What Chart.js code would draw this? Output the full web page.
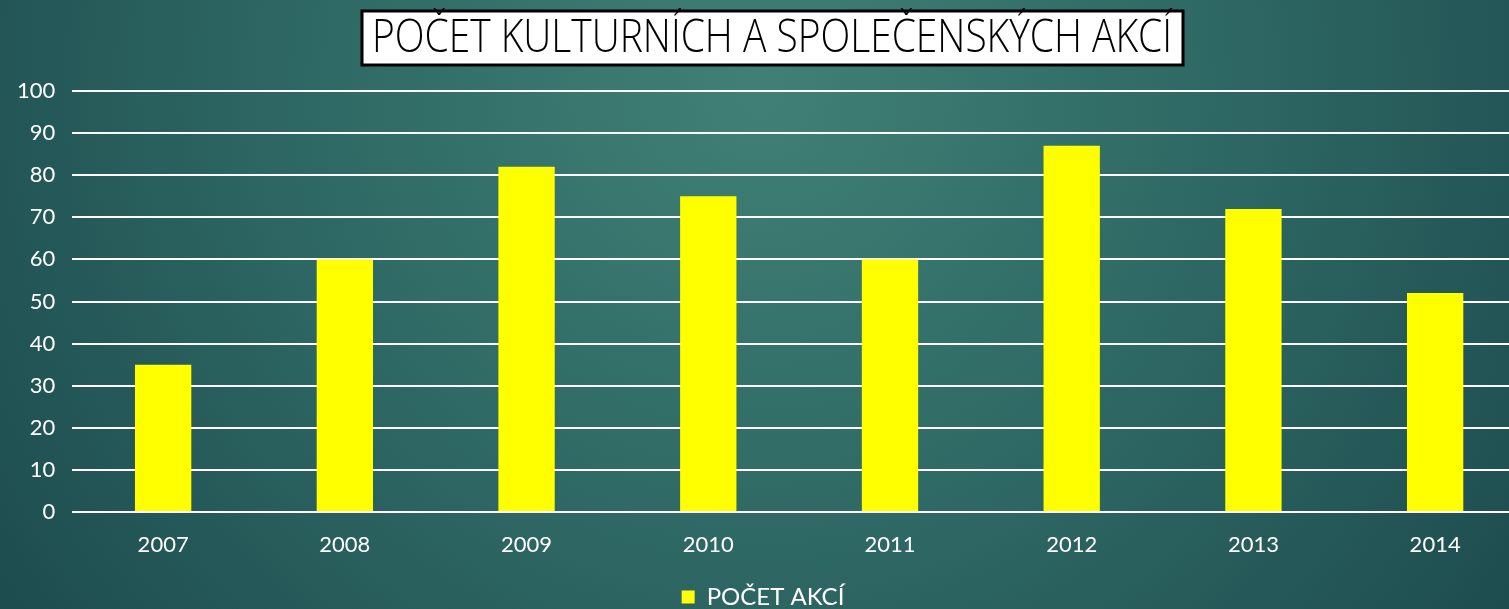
<!DOCTYPE html>
<html>
<head>
<meta charset="utf-8">
<script src="https://cdn.jsdelivr.net/npm/chart.js@4"></script>
<style>
  html, body { margin: 0; padding: 0; background: #2b6461; overflow: hidden; }
  /* the plot runs slightly past the right edge of the slide, so the canvas is wider and clipped */
  #wrap { width: 1509px; height: 609px; overflow: hidden; }
</style>
</head>
<body>
<div id="wrap"><canvas id="akceChart" width="1526" height="609"></canvas></div>
<script>
const years = ['2007', '2008', '2009', '2010', '2011', '2012', '2013', '2014'];
const akce = [35, 60, 82, 75, 60, 87, 72, 52];
const titleText = 'POČET KULTURNÍCH A SPOLEČENSKÝCH AKCÍ';
const seriesName = 'POČET AKCÍ';

// background gradient + boxed title (drawn by hand, condensed like the original)
const backdrop = {
    id: 'backdrop',
    beforeDraw(chart) {
        const ctx = chart.ctx;
        const w = chart.width, h = chart.height;
        ctx.save();
        const g = ctx.createRadialGradient(760, 90, 20, 760, 90, 900);
        g.addColorStop(0, '#3f7f75');
        g.addColorStop(0.5, '#2e6864');
        g.addColorStop(1, '#1e4d50');
        ctx.fillStyle = g;
        ctx.fillRect(0, 0, w, h);

        ctx.fillStyle = '#ffffff';
        ctx.fillRect(362, 11, 821, 54);
        ctx.lineWidth = 3;
        ctx.strokeStyle = '#000000';
        ctx.strokeRect(362, 11, 821, 54);

        ctx.font = "300 46px 'Open Sans'";
        const tw = ctx.measureText(titleText).width;
        ctx.translate(772, 39);
        ctx.scale(800 / tw, 1);
        ctx.fillStyle = '#000000';
        ctx.textAlign = 'center';
        ctx.textBaseline = 'middle';
        ctx.fillText(titleText, 0, 0);
        ctx.restore();
    }
};

const tickFont = { family: "Lato, 'Open Sans'", size: 22 };

const ctx = document.getElementById('akceChart').getContext('2d');
new Chart(ctx, {
    type: 'bar',
    data: {
        labels: years,
        datasets: [{
            label: seriesName,
            data: akce,
            backgroundColor: '#ffff00',
            categoryPercentage: 1,
            barPercentage: 0.31
        }]
    },
    options: {
        responsive: false,
        animation: false,
        layout: { padding: { left: 0, right: 0, top: 91, bottom: -10 } },
        plugins: {
            title: { display: false },
            legend: {
                position: 'bottom',
                labels: {
                    color: '#ffffff',
                    boxWidth: 13,
                    boxHeight: 13,
                    padding: 4,
                    font: { family: "Lato, 'Open Sans'", size: 24 }
                }
            },
            tooltip: { enabled: false }
        },
        scales: {
            x: {
                grid: { display: false },
                border: { display: false },
                ticks: { color: '#ffffff', padding: 12, font: tickFont },
                afterFit(scale) { scale.height = 69; }
            },
            y: {
                min: 0,
                max: 100,
                ticks: { stepSize: 10, color: '#ffffff', padding: 17, font: tickFont },
                grid: { color: '#ffffff', lineWidth: 2, drawTicks: false },
                border: { display: false }
            }
        }
    },
    plugins: [backdrop]
});
</script>
</body>
</html>
